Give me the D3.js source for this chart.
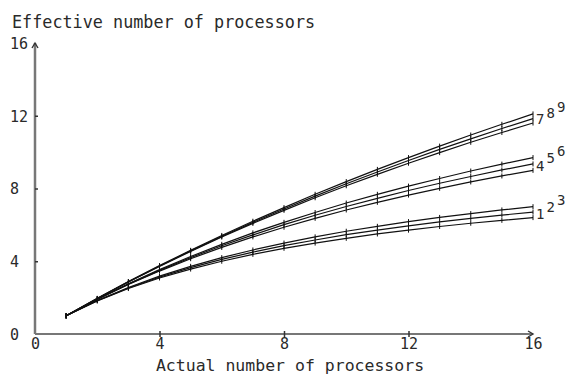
<!DOCTYPE html>
<html lang="en">
<head>
    <meta charset="UTF-8">
    <title>Effective number of processors</title>
    <script src="https://d3js.org/d3.v7.min.js"></script>
    <style>
        body { margin: 0; background: #fff; }
        text { font-family: "DejaVu Sans Mono", "Liberation Mono", monospace; fill: #2a2a2a; }
    </style>
</head>
<body>
    <svg width="567" height="374"></svg>
    <script>
        // processors on x axis
        const procs = [1, 2, 3, 4, 5, 6, 7, 8, 9, 10, 11, 12, 13, 14, 15, 16];
        const seriesNames = ["1", "2", "3", "4", "5", "6", "7", "8", "9"];
        const s1 = [1, 1.82, 2.50, 3.08, 3.57, 4.00, 4.38, 4.71, 5.00, 5.26, 5.50, 5.71, 5.91, 6.09, 6.25, 6.40];
        const s2 = [1, 1.83, 2.53, 3.13, 3.65, 4.10, 4.50, 4.86, 5.17, 5.46, 5.71, 5.95, 6.16, 6.36, 6.54, 6.70];
        const s3 = [1, 1.84, 2.56, 3.18, 3.72, 4.20, 4.62, 5.00, 5.34, 5.65, 5.92, 6.18, 6.41, 6.62, 6.82, 7.00];
        const s4 = [1, 1.90, 2.72, 3.46, 4.14, 4.76, 5.34, 5.87, 6.36, 6.82, 7.24, 7.64, 8.01, 8.36, 8.69, 9.00];
        const s5 = [1, 1.91, 2.74, 3.50, 4.20, 4.85, 5.45, 6.01, 6.53, 7.01, 7.46, 7.89, 8.29, 8.66, 9.02, 9.35];
        const s6 = [1, 1.92, 2.76, 3.54, 4.26, 4.93, 5.56, 6.14, 6.68, 7.20, 7.68, 8.13, 8.55, 8.96, 9.34, 9.70];
        const s7 = [1, 1.95, 2.86, 3.72, 4.54, 5.33, 6.08, 6.80, 7.49, 8.15, 8.78, 9.39, 9.97, 10.54, 11.08, 11.60];
        const s8 = [1, 1.95, 2.87, 3.74, 4.57, 5.37, 6.14, 6.87, 7.58, 8.26, 8.91, 9.54, 10.15, 10.73, 11.30, 11.84];
        const s9 = [1, 1.96, 2.88, 3.76, 4.60, 5.42, 6.20, 6.95, 7.68, 8.38, 9.05, 9.70, 10.33, 10.94, 11.53, 12.10];
        const allSeries = [s1, s2, s3, s4, s5, s6, s7, s8, s9];
        const xTicks = [0, 4, 8, 12, 16];
        const yTicks = [0, 4, 8, 12, 16];

        const svg = d3.select("svg");
        const x = d3.scaleLinear().domain([0, 16]).range([35, 533]);
        const y = d3.scaleLinear().domain([0, 16]).range([334, 43]);

        // title
        svg.append("text")
            .attr("x", 12).attr("y", 28)
            .attr("font-size", 16.8)
            .text("Effective number of processors");

        svg.append("text")
            .attr("x", 290).attr("y", 371)
            .attr("text-anchor", "middle")
            .attr("font-size", 16.5)
            .text("Actual number of processors");

        // axes lines
        svg.append("line")
            .attr("x1", x(0)).attr("x2", x(16))
            .attr("y1", y(0)).attr("y2", y(0))
            .attr("stroke", "#777").attr("stroke-width", 2);
        svg.append("line")
            .attr("x1", x(0)).attr("x2", x(0))
            .attr("y1", y(0)).attr("y2", y(16))
            .attr("stroke", "#777").attr("stroke-width", 2.5);

        // arrow heads
        svg.append("path")
            .attr("d", `M${x(16) - 5},${y(0) - 3} L${x(16)},${y(0)} L${x(16) - 5},${y(0) + 3}`)
            .attr("fill", "none").attr("stroke", "#333").attr("stroke-width", 1.4);
        svg.append("path")
            .attr("d", `M${x(0) - 3},${y(16) + 5} L${x(0)},${y(16)} L${x(0) + 3},${y(16) + 5}`)
            .attr("fill", "none").attr("stroke", "#333").attr("stroke-width", 1.4);

        // ticks
        const xAxis = svg.append("g")
            .attr("transform", `translate(0,${y(0)})`)
            .call(d3.axisBottom(x).tickValues(xTicks).tickSize(3).tickPadding(4).tickFormat(d3.format("d")));
        xAxis.select(".domain").remove();
        xAxis.selectAll(".tick line").attr("y1", -3).attr("stroke", "#333").attr("stroke-width", 1.5)
            .filter(d => d === 0 || d === 16).remove();
        xAxis.selectAll(".tick text")
            .attr("font-family", null).attr("font-size", 15).attr("fill", null)
            .attr("dy", null).attr("y", 15);

        const yAxis = svg.append("g")
            .attr("transform", `translate(${x(0)},0)`)
            .call(d3.axisLeft(y).tickValues(yTicks).tickSize(3).tickFormat(d3.format("d")));
        yAxis.select(".domain").remove();
        yAxis.selectAll(".tick line").attr("x2", 3).attr("stroke", "#333").attr("stroke-width", 1.5)
            .filter(d => d === 0 || d === 16).remove();
        yAxis.selectAll(".tick text")
            .attr("font-family", null).attr("font-size", 15).attr("fill", null)
            .attr("text-anchor", "start").attr("x", 10 - x(0)).attr("dy", "0.35em");

        // curves
        const line = d3.line()
            .x((d, i) => x(procs[i]))
            .y(d => y(d));

        const groups = svg.selectAll("g.series")
            .data(allSeries)
            .join("g")
            .attr("class", "series");

        groups.append("path")
            .attr("d", d => line(d))
            .attr("fill", "none")
            .attr("stroke", "#111")
            .attr("stroke-width", 1.2);

        groups.selectAll("line.mark")
            .data(d => d)
            .join("line")
            .attr("class", "mark")
            .attr("x1", (d, i) => x(procs[i])).attr("x2", (d, i) => x(procs[i]))
            .attr("y1", d => y(d) - 2.5).attr("y2", d => y(d) + 2.5)
            .attr("stroke", "#111").attr("stroke-width", 1);

        // end labels, stepped like superscripts
        groups.append("text")
            .attr("x", (d, i) => x(16) + 3 + (i % 3) * 10.5)
            .attr("y", (d, i) => y(d[d.length - 1]) + 1 - (i % 3) * 1.5)
            .attr("font-size", 14)
            .text((d, i) => seriesNames[i]);
    </script>
</body>
</html>
